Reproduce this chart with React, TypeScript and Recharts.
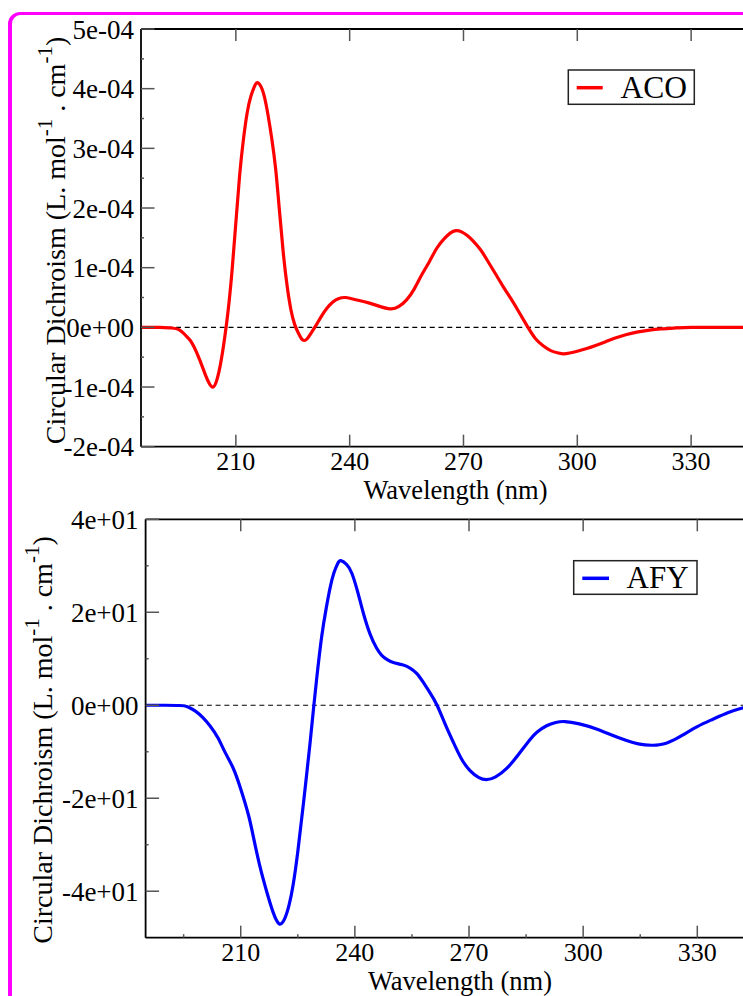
import React from "react";
import { LineChart, Line, XAxis, YAxis, ReferenceLine } from "recharts";

const SERIF = '"Liberation Serif", "Times New Roman", serif';
const TICK = "#555";
const AXIS = { stroke: "#000", strokeWidth: 1.8 };

// ACO spectrum, CD in units of 1e-4 L.mol-1.cm-1
const acoWavelength = [
  185, 190, 193, 195, 197, 198, 199, 200.5, 202, 203, 204, 205, 206, 207, 208, 209, 210, 211, 212, 213,
  214, 215, 215.6, 216.5, 217.5, 218.5, 219.5, 220.5, 221.5, 222.5, 223.5, 224.5, 225.5, 226.5, 227.3,
  228, 228.8, 229.8, 231, 232.5, 234, 235.5, 237, 238.8, 240.5, 242.5, 245, 247.5, 250.7, 253, 255, 257,
  259, 261, 263, 265, 266.5, 268, 269.5, 271, 272.5, 274.5, 276.5, 278.5, 280.5, 282.5, 284.5, 287,
  289, 291, 293, 295, 296.4, 298, 300, 302.5, 305, 307.5, 310, 313, 316, 319, 322, 326, 330, 340, 350,
];
const acoCd = [
  0, 0, -0.01, -0.04, -0.15, -0.22, -0.33, -0.55, -0.8, -0.94, -1.0, -0.88, -0.6, -0.2, 0.3, 0.95, 1.75,
  2.55, 3.15, 3.6, 3.88, 4.05, 4.1, 4.05, 3.87, 3.55, 3.15, 2.65, 1.95, 1.25, 0.7, 0.3, 0.05, -0.1, -0.19,
  -0.22, -0.19, -0.1, 0.02, 0.18, 0.32, 0.42, 0.48, 0.5, 0.48, 0.45, 0.41, 0.36, 0.31, 0.35, 0.46, 0.64,
  0.88, 1.1, 1.33, 1.49, 1.58, 1.62, 1.6, 1.54, 1.45, 1.3, 1.1, 0.89, 0.68, 0.48, 0.27, 0, -0.19,
  -0.31, -0.39, -0.43, -0.444, -0.43, -0.4, -0.355, -0.3, -0.24, -0.18, -0.12, -0.075, -0.045, -0.025,
  -0.01, 0, 0, 0,
];

// AFY spectrum, CD in L.mol-1.cm-1
const afyWavelength = [
  185, 190, 194, 196, 198, 200, 202, 204, 206, 208, 210, 212, 213.3, 215, 216.8, 218.5, 220.1, 221.5,
  222.7, 223.8, 225, 226.5, 228.2, 229.1, 230, 231.3, 232.5, 233.5, 234.5, 235.5, 236.3, 237.8, 239.2,
  240.7, 242.2, 244, 245.7, 247, 248.5, 250.1, 252.5, 254.5, 256.3, 258, 259.8, 261.6, 263.7, 265.9, 268,
  270.2, 272.5, 274.6, 277, 279.9, 283, 286, 288, 290.4, 292.8, 295.2, 299, 303.5, 307.5, 311.4, 314.5,
  318, 320, 322, 324, 326, 330, 334.1, 338, 341.6, 345, 350,
];
const afyCd = [
  0, 0, -0.05, -0.3, -1.2, -2.6, -4.5, -7.0, -10.3, -13.5, -18, -23.5, -28.2, -34.5, -40, -44.5, -47, -46,
  -43, -38.5, -31.5, -21, -8.3, -1, 6, 14.9, 21, 25.3, 28.5, 30.5, 31.1, 30.3, 28.4, 24.5, 19.9, 15.3,
  12.3, 10.8, 9.8, 9.2, 8.7, 8.0, 6.8, 4.9, 2.6, 0, -4, -8, -11.5, -14.0, -15.5, -16, -15.4, -13.6, -10.6,
  -7.4, -5.7, -4.4, -3.7, -3.5, -4, -5.1, -6.4, -7.6, -8.3, -8.6, -8.5, -8.1, -7.4, -6.5, -4.6, -3.0,
  -1.6, -0.64, 0, 0.6,
];

const xMajor = [210, 240, 270, 300, 330];
const xMinor = [195, 225, 255, 285, 315, 345];
const acoYMajor = [-2, -1, 0, 1, 2, 3, 4, 5];
const acoYMinor = [-1.5, -0.5, 0.5, 1.5, 2.5, 3.5, 4.5];
const afyYMajor = [-40, -20, 0, 20, 40];
const afyYMinor = [-30, -10, 10, 30];

const acoData = acoWavelength.map((wl, i) => ({ wl, cd: acoCd[i] }));
const afyData = afyWavelength.map((wl, i) => ({ wl, cd: afyCd[i] }));

function sci(v: number) {
  if (Math.abs(v) < 1e-12) return "0e+00";
  const [m, e] = v.toExponential(0).split("e");
  const n = Number(e);
  return `${m}e${n < 0 ? "-" : "+"}${String(Math.abs(n)).padStart(2, "0")}`;
}

const serif = (size: number) => ({ fontFamily: SERIF, fontSize: size });

const bottomTick = (majors: number[]) => (p: any) => {
  const v = p.payload.value;
  const major = majors.includes(v);
  return (
    <g>
      <line x1={p.x} x2={p.x} y1={p.y} y2={p.y - (major ? 12 : 3.5)} stroke={TICK} strokeWidth={1.5} />
      {major && (
        <text x={p.x} y={p.y + 23} textAnchor="middle" style={serif(26)} fill="#000">
          {v}
        </text>
      )}
    </g>
  );
};

const topTick = (p: any) => (
  <line x1={p.x} x2={p.x} y1={p.y} y2={p.y + 12} stroke={TICK} strokeWidth={1.5} />
);

const leftTick = (majors: number[], fmt: (v: number) => string) => (p: any) => {
  const v = p.payload.value;
  const major = majors.includes(v);
  return (
    <g>
      <line x1={p.x} x2={p.x + (major ? 13.5 : 3)} y1={p.y} y2={p.y} stroke={TICK} strokeWidth={1.5} />
      {major && (
        <text x={p.x - 7} y={p.y + 9.5} textAnchor="end" style={serif(27)} fill="#000">
          {fmt(v)}
        </text>
      )}
    </g>
  );
};

type PanelProps = {
  top: number;
  height: number;
  plot: { top: number; left: number; right: number; bottom: number };
  data: { wl: number; cd: number }[];
  color: string;
  yDomain: [number, number];
  yMajor: number[];
  yMinor: number[];
  xMinorTicks: number[];
  yFmt: (v: number) => string;
};

// axes are 1px thick, so margins are the plot edges minus 1
function CdPanel({ top, height, plot, data, color, yDomain, yMajor, yMinor, xMinorTicks, yFmt }: PanelProps) {
  const xTicks = [...xMajor, ...xMinorTicks].sort((a, b) => a - b);
  const yTicks = [...yMajor, ...yMinor].sort((a, b) => a - b);
  const width = 800;
  const margin = {
    top: plot.top - 1,
    left: plot.left - 1,
    right: width - plot.right,
    bottom: height - plot.bottom - 1,
  };
  return (
    <div style={{ position: "absolute", left: 0, top }}>
      <LineChart width={width} height={height} data={data} margin={margin}>
        <XAxis
          dataKey="wl"
          type="number"
          domain={[185, 350]}
          allowDataOverflow
          ticks={xTicks}
          interval={0}
          height={1}
          tickSize={0}
          tickMargin={0}
          tickLine={false}
          axisLine={AXIS}
          tick={bottomTick(xMajor)}
        />
        <XAxis
          xAxisId="top"
          orientation="top"
          dataKey="wl"
          type="number"
          domain={[185, 350]}
          allowDataOverflow
          ticks={xMajor}
          interval={0}
          height={1}
          tickSize={0}
          tickMargin={0}
          tickLine={false}
          axisLine={AXIS}
          tick={topTick}
        />
        <YAxis
          type="number"
          domain={yDomain}
          allowDataOverflow
          ticks={yTicks}
          interval={0}
          width={1}
          tickSize={0}
          tickMargin={0}
          tickLine={false}
          axisLine={AXIS}
          tick={leftTick(yMajor, yFmt)}
        />
        <ReferenceLine y={0} stroke="#000" strokeWidth={1.2} strokeDasharray="5 3.75" />
        <Line
          dataKey="cd"
          type="natural"
          stroke={color}
          strokeWidth={3.2}
          dot={false}
          activeDot={false}
          isAnimationActive={false}
        />
      </LineChart>
    </div>
  );
}

function YLabel({ x, y }: { x: number; y: number }) {
  return (
    <text transform={`translate(${x},${y}) rotate(-90)`} textAnchor="middle" style={serif(28)} fill="#000">
      Circular Dichroism (L. mol
      <tspan dy={-13} style={{ fontSize: 21 }}>-1</tspan>
      <tspan dy={13}> . cm</tspan>
      <tspan dy={-13} style={{ fontSize: 21 }}>-1</tspan>
      <tspan dy={13}>)</tspan>
    </text>
  );
}

export default function App() {
  return (
    <div
      style={{
        position: "fixed",
        left: 0,
        top: 0,
        width: 743,
        height: 996,
        overflow: "hidden",
        background: "#fff",
        fontFamily: SERIF,
      }}
    >
      <div
        style={{
          position: "absolute",
          left: 8,
          top: 12,
          width: 900,
          height: 1200,
          border: "4px solid #ff00ff",
          borderTopWidth: 3,
          borderTopLeftRadius: 12,
          boxSizing: "border-box",
        }}
      />
      <CdPanel
        top={0}
        height={520}
        plot={{ top: 29, left: 141, right: 767, bottom: 446.7 }}
        data={acoData}
        color="#ff0000"
        yDomain={[-2, 5]}
        yMajor={acoYMajor}
        yMinor={acoYMinor}
        xMinorTicks={[]}
        yFmt={(v) => sci(v * 1e-4)}
      />
      <CdPanel
        top={490}
        height={506}
        plot={{ top: 29.3, left: 145.6, right: 773.4, bottom: 447.7 }}
        data={afyData}
        color="#0000ff"
        yDomain={[-50, 40]}
        yMajor={afyYMajor}
        yMinor={afyYMinor}
        xMinorTicks={xMinor}
        yFmt={sci}
      />
      <svg width={743} height={996} style={{ position: "absolute", left: 0, top: 0, pointerEvents: "none" }}>
        <YLabel x={65} y={240.5} />
        <YLabel x={52} y={740} />
        <text x={455.5} y={499} textAnchor="middle" style={serif(26.5)} fill="#000">
          Wavelength (nm)
        </text>
        <text x={460} y={990} textAnchor="middle" style={serif(26.5)} fill="#000">
          Wavelength (nm)
        </text>
        <rect x={568.3} y={70} width={126} height={34.3} fill="#fff" stroke="#222" strokeWidth={1.5} />
        <line x1={576.7} x2={602.7} y1={87.7} y2={87.7} stroke="#ff0000" strokeWidth={3.5} />
        <text x={620.5} y={98.3} style={serif(31.5)} fill="#000">ACO</text>
        <rect x={573.7} y={560.7} width={123.3} height={33.6} fill="#fff" stroke="#222" strokeWidth={1.5} />
        <line x1={582.3} x2={609} y1={578.3} y2={578.3} stroke="#0000ff" strokeWidth={3.5} />
        <text x={626.5} y={588.3} style={serif(31)} fill="#000">AFY</text>
      </svg>
    </div>
  );
}
